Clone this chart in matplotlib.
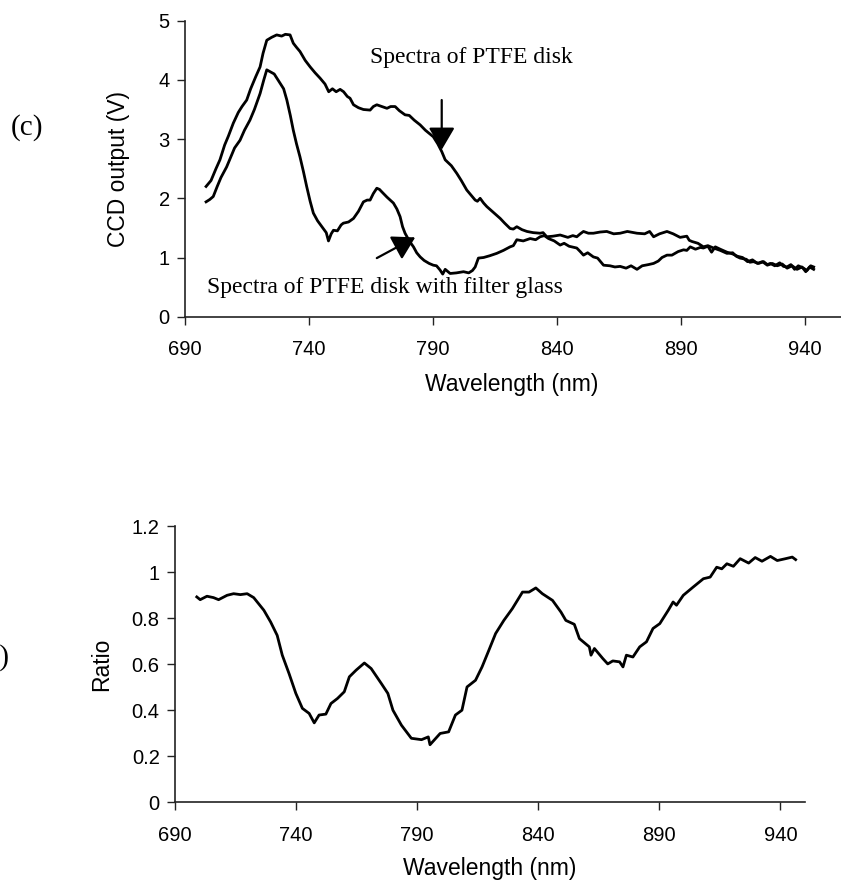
import matplotlib
matplotlib.use("Agg")
import matplotlib.pyplot as plt
from matplotlib.ticker import FuncFormatter

# ---------------- data ----------------
ptfe_wl = [698.5, 700.5, 702.5, 704.1, 706.0, 707.5, 709.5, 711.5, 713.0, 714.9,
           716.5, 718.5, 720.3, 721.5, 723.0, 725.0, 727.0, 729.0, 730.5, 732.4,
           733.7, 735.0, 736.4, 738.5, 740.5, 742.5, 744.5, 746.5, 748.0, 749.5,
           751.0, 752.6, 754.0, 755.5, 756.6, 758.0, 760.0, 762.0, 764.7, 766.0,
           767.4, 769.5, 771.5, 773.0, 774.8, 776.5, 778.8, 780.5, 782.5, 784.9,
           787.0, 790.2, 792.0, 793.6, 795.0, 797.5, 799.7, 801.5, 803.7, 805.5,
           807.1, 808.0, 809.1, 810.5, 811.8, 814.5, 817.2, 819.0, 821.2, 822.5,
           823.9, 826.0, 828.0, 830.5, 833.3, 834.5, 836.0, 838.5, 841.4, 844.5,
           846.5, 848.1, 849.5, 850.8, 852.8, 854.8, 857.5, 860.2, 863.0, 865.6,
           868.5, 872.4, 875.5, 877.5, 879.1, 881.5, 884.5, 887.0, 889.8, 892.5,
           893.5, 894.6, 897.0, 899.2, 901.0, 903.3, 906.0, 908.7, 911.0, 912.5,
           914.0, 916.5, 918.0, 919.4, 921.5, 923.5, 925.0, 926.2, 928.0, 930.0,
           931.5, 932.9, 934.5, 936.0, 937.5, 939.6, 941.0, 942.5, 943.7]
ptfe_v = [2.20, 2.30, 2.50, 2.65, 2.90, 3.05, 3.27, 3.45, 3.55, 3.66,
          3.85, 4.05, 4.22, 4.45, 4.67, 4.72, 4.76, 4.74, 4.77, 4.76,
          4.62, 4.55, 4.48, 4.33, 4.22, 4.12, 4.03, 3.93, 3.80, 3.85,
          3.80, 3.84, 3.80, 3.72, 3.69, 3.58, 3.53, 3.50, 3.49, 3.55,
          3.58, 3.55, 3.52, 3.55, 3.55, 3.48, 3.41, 3.40, 3.32, 3.24,
          3.15, 3.04, 2.92, 2.79, 2.65, 2.55, 2.42, 2.30, 2.14, 2.05,
          1.97, 1.95, 2.00, 1.92, 1.86, 1.76, 1.66, 1.58, 1.49, 1.48,
          1.52, 1.47, 1.44, 1.42, 1.41, 1.42, 1.35, 1.36, 1.38, 1.34,
          1.37, 1.35, 1.40, 1.44, 1.41, 1.41, 1.43, 1.44, 1.40, 1.41,
          1.44, 1.41, 1.40, 1.44, 1.35, 1.40, 1.44, 1.40, 1.34, 1.36,
          1.29, 1.27, 1.24, 1.18, 1.20, 1.16, 1.12, 1.07, 1.08, 1.02,
          0.99, 0.97, 0.92, 0.93, 0.90, 0.93, 0.88, 0.90, 0.86, 0.91,
          0.85, 0.84, 0.88, 0.80, 0.86, 0.82, 0.78, 0.86, 0.84]

filt_wl = [698.5, 700.0, 701.4, 703.0, 704.5, 706.8, 708.5, 710.0, 712.2, 714.0,
           716.2, 718.0, 720.3, 721.8, 723.0, 724.3, 726.0, 728.4, 729.8, 731.1,
           732.5, 733.7, 735.0, 736.4, 737.8, 739.1, 740.5, 741.8, 743.5, 745.8,
           747.0, 747.9, 749.0, 749.9, 751.5, 753.0, 753.9, 756.0, 758.0, 760.0,
           762.0, 763.5, 764.7, 766.0, 767.4, 768.5, 769.4, 771.5, 774.1, 775.5,
           776.8, 777.8, 778.8, 780.5, 782.2, 783.5, 784.9, 786.5, 788.5, 790.2,
           791.5, 792.9, 794.0, 795.0, 797.0, 799.5, 802.4, 804.5, 806.0, 807.1,
           808.4, 810.5, 813.0, 815.8, 818.5, 821.2, 822.5, 823.9, 826.5, 829.3,
           831.5, 833.3, 835.0, 836.7, 839.0, 841.4, 843.0, 845.0, 848.1, 849.5,
           850.8, 852.5, 854.8, 856.5, 858.9, 861.5, 863.5, 865.6, 868.0, 870.0,
           872.4, 874.5, 877.0, 879.1, 881.0, 882.5, 884.5, 886.5, 889.0, 891.2,
           892.5, 893.9, 896.0, 898.0, 899.2, 901.0, 902.5, 904.0, 906.0, 908.7,
           911.0, 913.0, 915.0, 917.0, 919.0, 921.0, 923.0, 925.0, 927.0, 929.0,
           931.0, 933.0, 935.0, 937.0, 939.0, 940.5, 942.0, 943.7]
filt_v = [1.94, 1.98, 2.03, 2.20, 2.35, 2.53, 2.70, 2.85, 2.98, 3.15,
          3.32, 3.50, 3.77, 4.00, 4.17, 4.14, 4.10, 3.94, 3.85, 3.66,
          3.40, 3.15, 2.92, 2.70, 2.45, 2.20, 1.95, 1.75, 1.62, 1.49,
          1.42, 1.28, 1.40, 1.46, 1.45, 1.55, 1.58, 1.60, 1.66, 1.78,
          1.94, 1.97, 1.97, 2.08, 2.17, 2.15, 2.11, 2.02, 1.92, 1.82,
          1.69, 1.52, 1.41, 1.28, 1.18, 1.08, 1.01, 0.95, 0.90, 0.87,
          0.86, 0.79, 0.72, 0.80, 0.73, 0.74, 0.76, 0.74, 0.78, 0.84,
          0.99, 1.00, 1.03, 1.07, 1.12, 1.18, 1.20, 1.30, 1.28, 1.32,
          1.30, 1.35, 1.37, 1.32, 1.28, 1.21, 1.24, 1.19, 1.16, 1.10,
          1.04, 1.08, 1.01, 0.99, 0.87, 0.86, 0.84, 0.85, 0.82, 0.86,
          0.80, 0.86, 0.88, 0.90, 0.94, 1.00, 1.04, 1.04, 1.10, 1.13,
          1.12, 1.18, 1.14, 1.17, 1.16, 1.19, 1.09, 1.18, 1.14, 1.09,
          1.06, 1.02, 1.00, 0.93, 0.96, 0.90, 0.93, 0.87, 0.90, 0.86,
          0.89, 0.82, 0.86, 0.80, 0.84, 0.76, 0.84, 0.80]

ratio_wl = [699.0, 700.4, 703.2, 705.9, 708.0, 711.5, 714.2, 717.0, 719.8, 722.5,
            726.7, 729.5, 732.2, 734.3, 737.1, 739.9, 742.6, 745.4, 747.5, 749.5,
            752.3, 754.4, 757.1, 759.9, 762.0, 764.8, 768.2, 771.0, 775.2, 777.9,
            780.0, 783.5, 787.6, 791.8, 794.6, 795.3, 799.5, 803.0, 805.8, 808.5,
            810.6, 814.1, 816.8, 819.6, 822.4, 825.8, 829.3, 833.5, 836.2, 839.0,
            841.7, 845.9, 849.4, 851.4, 854.9, 857.0, 861.1, 861.8, 863.2, 866.7,
            868.7, 870.8, 873.6, 875.0, 876.4, 879.1, 881.9, 884.7, 887.4, 890.2,
            893.7, 895.7, 897.1, 899.9, 904.0, 908.2, 911.0, 913.7, 915.8, 917.9,
            920.6, 923.4, 926.9, 929.6, 932.4, 935.9, 938.7, 942.1, 944.9, 946.3]
ratio_v = [0.892, 0.880, 0.895, 0.889, 0.880, 0.899, 0.906, 0.902, 0.906, 0.889,
           0.834, 0.783, 0.725, 0.639, 0.559, 0.473, 0.408, 0.386, 0.345, 0.379,
           0.383, 0.429, 0.451, 0.480, 0.545, 0.574, 0.605, 0.581, 0.516, 0.473,
           0.400, 0.335, 0.278, 0.272, 0.284, 0.250, 0.299, 0.306, 0.379, 0.400,
           0.501, 0.530, 0.588, 0.660, 0.733, 0.790, 0.841, 0.913, 0.913, 0.931,
           0.906, 0.877, 0.826, 0.790, 0.773, 0.711, 0.675, 0.639, 0.668, 0.624,
           0.601, 0.614, 0.610, 0.588, 0.639, 0.631, 0.675, 0.697, 0.755, 0.776,
           0.834, 0.870, 0.856, 0.899, 0.935, 0.971, 0.978, 1.021, 1.014, 1.036,
           1.025, 1.058, 1.039, 1.063, 1.047, 1.068, 1.050, 1.058, 1.065, 1.054]

x_ticks = [690, 740, 790, 840, 890, 940]
top_y_ticks = [0, 1, 2, 3, 4, 5]
bottom_y_ticks = [0, 0.2, 0.4, 0.6, 0.8, 1.0, 1.2]

# ---------------- figure ----------------
W, H = 841, 882
fig = plt.figure(figsize=(W / 100, H / 100), dpi=100)

sans = "Liberation Sans"
serif = "Liberation Serif"
tick_fs = 14.5
label_fs = 16.5

px_per_nm_top = (804.5 - 185) / 250.0
ax1 = fig.add_axes([185 / W, 1 - 316.7 / H, (W - 185) / W, 296 / H])
ax2 = fig.add_axes([175 / W, 1 - 802.3 / H, (804.6 - 175) / W, 276.3 / H])


def style(ax):
    for s in ("top", "right"):
        ax.spines[s].set_visible(False)
    for s in ("left", "bottom"):
        ax.spines[s].set_linewidth(1.2)
        ax.spines[s].set_color("#222222")
    ax.tick_params(direction="out", length=6, width=1.0, colors="#222222",
                   labelcolor="black", labelsize=tick_fs)
    ax.tick_params(axis="x", pad=11)
    ax.tick_params(axis="y", pad=5)
    for lab in ax.get_xticklabels() + ax.get_yticklabels():
        lab.set_fontfamily(sans)


ax1.plot(ptfe_wl, ptfe_v, color="black", lw=2.0)
ax1.plot(filt_wl, filt_v, color="black", lw=2.0)
ax1.set_xlim(690, 690 + (W - 185) / px_per_nm_top)
ax1.set_ylim(0, 5)
ax1.set_xticks(x_ticks)
ax1.set_yticks(top_y_ticks)
style(ax1)
ax1.set_xlabel("Wavelength (nm)", fontsize=label_fs, fontfamily=sans, va="center")
ax1.xaxis.set_label_coords((512 - 185) / (W - 185), -(384 - 316.7) / 296)
ax1.set_ylabel("CCD output (V)", fontsize=label_fs, fontfamily=sans, va="center")
ax1.yaxis.set_label_coords(-(185 - 118) / (W - 185), 0.5)

ax1.text(764.7, 4.28, "Spectra of PTFE disk", fontsize=17, fontfamily=serif,
         va="baseline", ha="left")
ax1.text(698.9, 0.40, "Spectra of PTFE disk with filter glass", fontsize=17,
         fontfamily=serif, va="baseline", ha="left")
arrow_props = dict(arrowstyle="-|>,head_length=0.85,head_width=0.5",
                   color="black", lw=1.6, mutation_scale=16, shrinkA=0, shrinkB=0)
ax1.annotate("", xy=(793.6, 2.82), xytext=(793.6, 3.66), arrowprops=arrow_props)
ax1.annotate("", xy=(782.9, 1.34), xytext=(767.4, 0.99), arrowprops=arrow_props)

ax2.plot(ratio_wl, ratio_v, color="black", lw=2.0)
ax2.set_xlim(690, 950)
ax2.set_ylim(0, 1.2)
ax2.set_xticks(x_ticks)
ax2.set_yticks(bottom_y_ticks)
ax2.yaxis.set_major_formatter(FuncFormatter(lambda v, p: "%g" % v))
style(ax2)
ax2.set_xlabel("Wavelength (nm)", fontsize=label_fs, fontfamily=sans, va="center")
ax2.xaxis.set_label_coords(0.5, -(868 - 802.3) / 276.3)
ax2.set_ylabel("Ratio", fontsize=label_fs, fontfamily=sans, va="center")
ax2.yaxis.set_label_coords(-(175 - 102) / (804.6 - 175), 0.5)

fig.text(27 / W, 1 - 128 / H, "(c)", fontsize=21, fontfamily=serif,
         ha="center", va="center")
# the panel label (d) is cropped at the left edge in the reference
fig.text(10 / W, 1 - 658 / H, "(d)", fontsize=21, fontfamily=serif,
         ha="right", va="center")

fig.savefig("out.png", dpi=100)
